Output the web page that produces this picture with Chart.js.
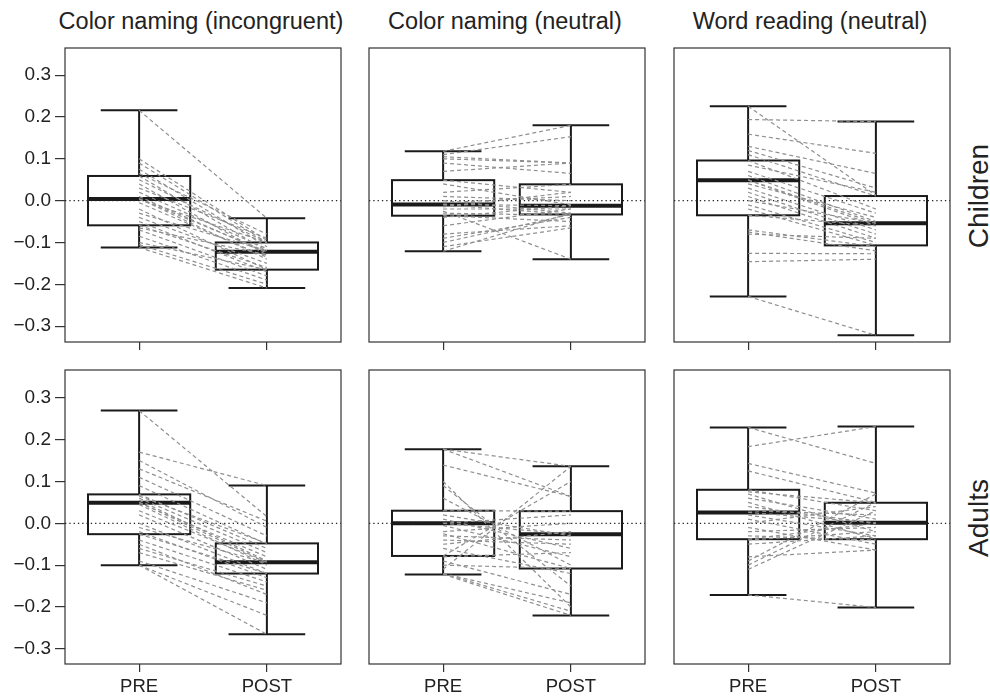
<!DOCTYPE html>
<html>
<head>
<meta charset="utf-8">
<script src="https://cdn.jsdelivr.net/npm/chart.js@4.4.0/dist/chart.umd.min.js"></script>
<style>
  body { margin: 0; width: 990px; height: 696px; background: #fff; overflow: hidden; position: relative;
         font-family: "Liberation Sans", Arial, sans-serif; color: #222; }
  canvas { position: absolute; }
  .title { position: absolute; top: 10px; width: 316px; text-align: center; font-size: 23.5px; line-height: 23px; white-space: nowrap; }
  .row { position: absolute; font-size: 28px; line-height: 28px; white-space: nowrap; transform: translate(-50%, -50%) rotate(-90deg); }
</style>
</head>
<body>
<script>
var panelTitles = ['Color naming (incongruent)', 'Color naming (neutral)', 'Word reading (neutral)'];
var rowLabels = ['Children', 'Adults'];
var timeLabels = ['PRE', 'POST'];
var yTicks = [-0.3, -0.2, -0.1, 0, 0.1, 0.2, 0.3];

// box stats: [lower whisker, Q1, median, Q3, upper whisker]
var childIncBoxPre = [-0.112, -0.059, 0.004, 0.059, 0.216];
var childIncBoxPost = [-0.209, -0.165, -0.122, -0.100, -0.042];
var childNeuBoxPre = [-0.121, -0.036, -0.009, 0.049, 0.118];
var childNeuBoxPost = [-0.140, -0.033, -0.012, 0.039, 0.180];
var childWordBoxPre = [-0.229, -0.035, 0.049, 0.096, 0.226];
var childWordBoxPost = [-0.322, -0.107, -0.054, 0.011, 0.189];
var adultIncBoxPre = [-0.100, -0.026, 0.049, 0.069, 0.269];
var adultIncBoxPost = [-0.265, -0.120, -0.093, -0.048, 0.090];
var adultNeuBoxPre = [-0.122, -0.078, 0.000, 0.030, 0.177];
var adultNeuBoxPost = [-0.220, -0.108, -0.026, 0.029, 0.136];
var adultWordBoxPre = [-0.171, -0.038, 0.026, 0.080, 0.229];
var adultWordBoxPost = [-0.201, -0.038, 0.001, 0.049, 0.231];

// individual subjects, PRE and POST in the same order
var childIncPre = [0.216, 0.10, 0.09, 0.075, 0.065, 0.059, 0.05, 0.04, 0.03, 0.02, 0.01, 0.005, 0.004, 0.003, -0.005, -0.02, -0.03, -0.04, -0.05, -0.059, -0.065, -0.07, -0.085, -0.10, -0.105, -0.112];
var childIncPost = [-0.042, -0.095, -0.10, -0.11, -0.08, -0.12, -0.10, -0.13, -0.09, -0.115, -0.125, -0.14, -0.122, -0.10, -0.135, -0.165, -0.12, -0.15, -0.17, -0.16, -0.13, -0.18, -0.19, -0.165, -0.20, -0.209];
var childNeuPre = [0.118, 0.11, 0.105, 0.10, 0.09, 0.07, 0.049, 0.04, 0.02, 0.01, 0.0, -0.005, -0.009, -0.01, -0.015, -0.02, -0.025, -0.03, -0.036, -0.04, -0.06, -0.08, -0.09, -0.10, -0.11, -0.121];
var childNeuPost = [0.18, 0.153, 0.09, 0.09, 0.065, 0.09, 0.02, -0.01, 0.039, 0.0, -0.03, 0.01, -0.012, -0.033, 0.02, -0.02, -0.14, -0.035, -0.05, -0.012, -0.02, -0.06, -0.04, -0.033, -0.065, -0.03];
var childWordPre = [0.226, 0.194, 0.159, 0.13, 0.12, 0.11, 0.096, 0.085, 0.07, 0.06, 0.05, 0.049, 0.04, 0.03, 0.02, 0.01, 0.0, -0.01, -0.02, -0.035, -0.07, -0.075, -0.08, -0.126, -0.146, -0.229];
var childWordPost = [0.013, 0.189, 0.113, 0.065, 0.03, 0.011, -0.02, 0.02, -0.03, -0.05, -0.054, -0.06, -0.04, -0.07, -0.08, -0.09, -0.054, -0.10, -0.107, -0.06, -0.11, -0.12, -0.09, -0.127, -0.14, -0.322];
var adultIncPre = [0.269, 0.17, 0.15, 0.13, 0.11, 0.09, 0.069, 0.065, 0.06, 0.055, 0.05, 0.049, 0.045, 0.03, 0.02, 0.0, -0.01, -0.02, -0.026, -0.04, -0.05, -0.06, -0.07, -0.09, -0.10, -0.10];
var adultIncPost = [0.016, 0.09, -0.01, 0.005, -0.03, -0.05, -0.06, -0.048, -0.07, -0.09, -0.093, -0.08, -0.10, -0.093, -0.11, -0.12, -0.095, -0.13, -0.12, -0.14, -0.17, -0.15, -0.16, -0.19, -0.22, -0.265];
var adultNeuPre = [0.177, 0.177, 0.139, 0.10, 0.09, 0.06, 0.03, 0.02, 0.01, 0.0, 0.0, -0.005, -0.02, -0.025, -0.03, -0.04, -0.05, -0.06, -0.078, -0.08, -0.09, -0.10, -0.11, -0.12, -0.122, -0.12];
var adultNeuPost = [0.136, 0.064, 0.064, -0.20, -0.15, -0.10, 0.029, -0.03, -0.06, 0.02, -0.026, -0.08, 0.0, -0.108, -0.04, -0.05, -0.02, -0.12, 0.10, -0.07, -0.17, -0.108, 0.136, -0.19, -0.22, -0.21];
var adultWordPre = [0.229, 0.183, 0.143, 0.125, 0.08, 0.075, 0.07, 0.06, 0.05, 0.04, 0.03, 0.026, 0.02, 0.01, 0.0, -0.01, -0.02, -0.03, -0.038, -0.04, -0.08, -0.09, -0.10, -0.11, -0.171, -0.05];
var adultWordPost = [0.143, 0.231, 0.072, 0.05, 0.03, 0.049, -0.02, 0.01, -0.038, 0.0, 0.02, 0.001, -0.03, -0.05, 0.04, -0.064, -0.01, -0.04, 0.0, -0.02, -0.064, 0.07, 0.05, 0.03, -0.201, -0.03];

var panels = [
  { row: 0, col: 0, box: [childIncBoxPre, childIncBoxPost], pre: childIncPre, post: childIncPost },
  { row: 0, col: 1, box: [childNeuBoxPre, childNeuBoxPost], pre: childNeuPre, post: childNeuPost },
  { row: 0, col: 2, box: [childWordBoxPre, childWordBoxPost], pre: childWordPre, post: childWordPost },
  { row: 1, col: 0, box: [adultIncBoxPre, adultIncBoxPost], pre: adultIncPre, post: adultIncPost },
  { row: 1, col: 1, box: [adultNeuBoxPre, adultNeuBoxPost], pre: adultNeuPre, post: adultNeuPost },
  { row: 1, col: 2, box: [adultWordBoxPre, adultWordBoxPost], pre: adultWordPre, post: adultWordPost }
];

var colLeft = [65, 369, 674];
var rowTop = [48, 370];
var yRange = [[-0.338, 0.365], [-0.336, 0.366]];
var FONT = '"Liberation Sans", Arial, sans-serif';

function fmt(v) {
  var s = Math.abs(v).toFixed(1);
  return v < -1e-9 ? '\u2212' + s : s;
}

// no automatic edge padding, so every panel gets the same plot area
function noPad(s) {
  s.paddingTop = 0; s.paddingBottom = 0; s.paddingLeft = 0; s.paddingRight = 0;
}

var boxPlugin = {
  id: 'boxes',
  beforeDatasetsDraw: function(chart, args, opts) {
    var ctx = chart.ctx, x = chart.scales.x, y = chart.scales.y;
    function seg(x1, y1, x2, y2) { ctx.beginPath(); ctx.moveTo(x1, y1); ctx.lineTo(x2, y2); ctx.stroke(); }
    ctx.save();
    ctx.strokeStyle = '#1a1a1a';
    opts.stats.forEach(function(s, i) {
      var c = i + 1;
      var bl = x.getPixelForValue(c - 0.4), br = x.getPixelForValue(c + 0.4);
      var cl = x.getPixelForValue(c - 0.3), cr = x.getPixelForValue(c + 0.3);
      var xm = x.getPixelForValue(c);
      var p = s.map(function(v) { return y.getPixelForValue(v); });
      ctx.lineWidth = 2;
      seg(xm, p[4], xm, p[3]);
      seg(xm, p[1], xm, p[0]);
      seg(cl, p[4], cr, p[4]);
      seg(cl, p[0], cr, p[0]);
      ctx.strokeRect(bl, p[3], br - bl, p[1] - p[3]);
      ctx.lineWidth = 4;
      seg(bl, p[2], br, p[2]);
    });
    ctx.restore();
  }
};

var framePlugin = {
  id: 'frame',
  afterDatasetsDraw: function(chart) {
    var a = chart.chartArea, ctx = chart.ctx;
    ctx.save();
    ctx.strokeStyle = '#333';
    ctx.lineWidth = 1.2;
    ctx.strokeRect(a.left, a.top, a.right - a.left, a.bottom - a.top);
    ctx.restore();
  }
};

panelTitles.forEach(function(t, i) {
  var d = document.createElement('div');
  d.className = 'title';
  d.style.left = (colLeft[i] - 22) + 'px';
  d.textContent = t;
  document.body.appendChild(d);
});

rowLabels.forEach(function(t, i) {
  var d = document.createElement('div');
  d.className = 'row';
  d.style.left = '979px';
  d.style.top = (rowTop[i] + 148) + 'px';
  d.textContent = t;
  document.body.appendChild(d);
});

panels.forEach(function(p) {
  var cv = document.createElement('canvas');
  cv.width = 343; cv.height = 336;
  cv.style.left = (colLeft[p.col] - 65) + 'px';
  cv.style.top = (rowTop[p.row] - 2) + 'px';
  document.body.appendChild(cv);

  var ds = p.pre.map(function(v, i) {
    return { data: [{ x: 1, y: v }, { x: 2, y: p.post[i] }], borderColor: '#8f8f8f', borderWidth: 1.2,
             borderDash: [4, 3], pointRadius: 0, fill: false };
  });
  ds.push({ data: [{ x: 0.42, y: 0 }, { x: 2.58, y: 0 }], borderColor: '#222', borderWidth: 1.3,
            borderDash: [1.3, 3], pointRadius: 0, fill: false });

  new Chart(cv.getContext('2d'), {
    type: 'line',
    data: { datasets: ds },
    plugins: [boxPlugin, framePlugin],
    options: {
      responsive: false, animation: false, devicePixelRatio: 1, events: [],
      layout: { padding: { top: 2, right: 2, left: 0, bottom: 0 } },
      plugins: { legend: { display: false }, tooltip: { enabled: false }, boxes: { stats: p.box } },
      scales: {
        x: {
          type: 'linear', min: 0.42, max: 2.58,
          afterBuildTicks: function(s) { s.ticks = [{ value: 1 }, { value: 2 }]; },
          afterFit: function(s) { s.height = 40; noPad(s); },
          grid: { drawOnChartArea: false, drawTicks: true, tickLength: 8, color: '#333', lineWidth: 1.2 },
          border: { display: false },
          ticks: { display: p.row === 1, autoSkip: false, maxRotation: 0, padding: 4, color: '#222',
                   font: { family: FONT, size: 18.5 }, callback: function(v) { return timeLabels[v - 1]; } }
        },
        y: {
          type: 'linear', min: yRange[p.row][0], max: yRange[p.row][1],
          afterBuildTicks: function(s) { s.ticks = yTicks.map(function(v) { return { value: v }; }); },
          afterFit: function(s) { s.width = 65; noPad(s); },
          grid: { display: p.col === 0, drawOnChartArea: false, drawTicks: true, tickLength: 10, color: '#333', lineWidth: 1.2 },
          border: { display: false },
          ticks: { display: p.col === 0, autoSkip: false, padding: 4, color: '#222',
                   font: { family: FONT, size: 19 }, callback: function(v) { return fmt(v); } }
        }
      }
    }
  });
});
</script>
</body>
</html>
